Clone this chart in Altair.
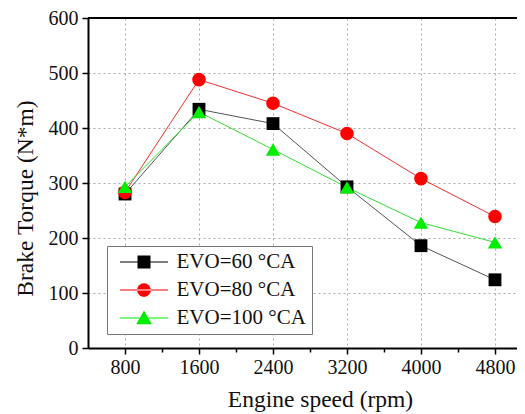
import altair as alt
import pandas as pd

speeds = [800, 1600, 2400, 3200, 4000, 4800]
series_names = ["EVO=60 °CA", "EVO=80 °CA", "EVO=100 °CA"]
evo60 = [280, 434, 408, 293, 186, 124]
evo80 = [283, 488, 445, 390, 308, 239]
evo100 = [293, 429, 361, 292, 228, 192]
x_tick_values = [800, 1200, 1600, 2000, 2400, 2800, 3200, 3600, 4000, 4400, 4800]
y_tick_values = [0, 50, 100, 150, 200, 250, 300, 350, 400, 450, 500, 550, 600]

marker_colors = ["#000000", "#ff0000", "#00ee00"]
line_colors = ["#555555", "#f03030", "#30e030"]
marker_shapes = ["square", "circle", "triangle-up"]
marker_sizes = [165, 205, 230]

# legend symbols: line segment with the marker in the middle
legend_paths = [
    "M-3.7,-0.09H3.7V0.09H-3.7Z M-1,-1H1V1H-1Z",
    "M-3.7,-0.09H3.7V0.09H-3.7Z M-1.05,0A1.05,1.05 0 1,0 1.05,0A1.05,1.05 0 1,0 -1.05,0Z",
    "M-3.7,-0.09H3.7V0.09H-3.7Z M0,-1.15L1.2,0.95L-1.2,0.95Z",
]

rows = []
for name, vals in zip(series_names, [evo60, evo80, evo100]):
    for s, v in zip(speeds, vals):
        rows.append({"speed": s, "torque": v, "series": name})
df = pd.DataFrame(rows)

font = "Liberation Serif"

x_enc = alt.X(
    "speed:Q",
    scale=alt.Scale(domain=[400, 5038], nice=False, zero=False),
    axis=alt.Axis(
        title="Engine speed (rpm)",
        values=x_tick_values,
        labelExpr="datum.value % 800 === 0 ? datum.label : ''",
        format="d",
        tickSize={"condition": {"test": "datum.value % 800 === 0", "value": 6}, "value": 4},
        gridOpacity={"condition": {"test": "datum.value % 800 === 0", "value": 1}, "value": 0},
        labelPadding=3,
        titlePadding=10,
        titleX=232,
    ),
)
y_enc = alt.Y(
    "torque:Q",
    scale=alt.Scale(domain=[0, 600], nice=False),
    axis=alt.Axis(
        title="Brake Torque (N*m)",
        values=y_tick_values,
        labelExpr="datum.value % 100 === 0 ? datum.label : ''",
        tickSize={"condition": {"test": "datum.value % 100 === 0", "value": 6}, "value": 4},
        gridOpacity={"condition": {"test": "datum.value % 100 === 0 && datum.value > 0 && datum.value < 600", "value": 1}, "value": 0},
        labelPadding=4,
        titlePadding=11,
        titleY=180,
    ),
)

lines = alt.Chart(df).mark_line(strokeWidth=1).encode(
    x=x_enc,
    y=y_enc,
    stroke=alt.Stroke("series:N", sort=series_names,
                      scale=alt.Scale(domain=series_names, range=line_colors), legend=None),
    detail="series:N",
)

points = alt.Chart(df).mark_point(filled=True, opacity=1).encode(
    x=x_enc,
    y=y_enc,
    fill=alt.Fill("series:N", sort=series_names,
                  scale=alt.Scale(domain=series_names, range=marker_colors), legend=None),
    shape=alt.Shape("series:N", sort=series_names,
                    scale=alt.Scale(domain=series_names, range=marker_shapes), legend=None),
    size=alt.Size("series:N", sort=series_names,
                  scale=alt.Scale(domain=series_names, range=marker_sizes), legend=None),
)

legend_layer = alt.Chart(df).mark_point(filled=True, opacity=1, clip=True, size=169).encode(
    x=alt.value(-200),
    y=alt.value(-200),
    fill=alt.Fill("series:N", sort=series_names,
                  scale=alt.Scale(domain=series_names, range=marker_colors),
                  legend=alt.Legend(title=None)),
    shape=alt.Shape("series:N", sort=series_names,
                    scale=alt.Scale(domain=series_names, range=legend_paths),
                    legend=alt.Legend(title=None)),
)

top_border = alt.Chart(df).mark_rule(color="black", strokeWidth=2).encode(
    y=alt.datum(600)
)

chart = (
    alt.layer(lines, points, legend_layer, top_border)
    .resolve_scale(fill="independent", shape="independent", size="independent")
    .properties(
        width=429,
        height=330,
        autosize=alt.AutoSizeParams(type="none"),
        padding={"left": 80, "top": 10, "right": 0, "bottom": 64},
    )
    .configure_view(stroke=None)
    .configure_axis(
        labelFont=font,
        titleFont=font,
        labelFontSize=20,
        titleFontSize=23.5,
        titleFontWeight="normal",
        labelColor="#111111",
        titleColor="#111111",
        domainColor="black",
        domainWidth=2,
        tickColor="black",
        tickWidth=1.5,
        gridColor="#aaaaaa",
        gridDash=[2, 3],
        gridWidth=1,
    )
    .configure_legend(
        orient="none",
        legendX=19,
        legendY=228,
        labelFont=font,
        labelFontSize=21,
        labelColor="#111111",
        strokeColor="#777777",
        fillColor="white",
        padding=5.5,
        rowPadding=6,
        clipHeight=21,
        symbolSize=169,
        symbolOffset=21,
        labelOffset=22,
        symbolStrokeWidth=0,
        labelLimit=400,
    )
)

chart.save("out.html", embed_options={"renderer": "svg", "actions": False})
